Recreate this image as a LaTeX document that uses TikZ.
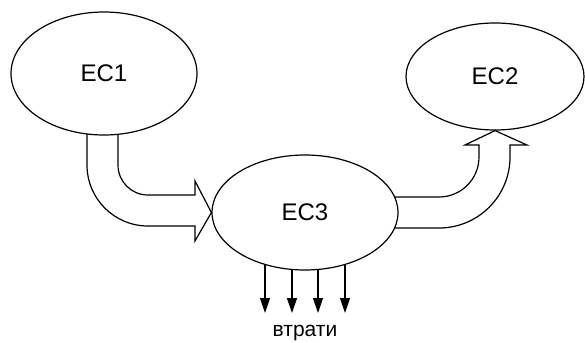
\documentclass[tikz,border=0pt]{standalone}
\usepackage{fontspec}
\setmainfont{Liberation Sans}
\usetikzlibrary{shapes.geometric,arrows.meta,backgrounds,calc}
\begin{document}
\begin{tikzpicture}[x=1pt,y=-1pt,line width=1.2pt,
  state/.style={ellipse,draw,fill=white,inner sep=0pt,line width=1.2pt,font=\fontsize{24}{28}\selectfont},
  blockarrow/.style={draw,black,line width=1.2pt,line join=miter},
  lossarrow/.style={draw,black,line width=1.2pt,-{Triangle[width=10pt,length=15pt]}}]
\useasboundingbox (0,0) rectangle (585,342);
\node[state,minimum width=186pt,minimum height=123pt] (ec1) at (104,73.5) {EC1};
\node[state,minimum width=178pt,minimum height=107pt] (ec2) at (495,76.5) {EC2};
\node[state,minimum width=186pt,minimum height=115pt] (ec3) at (305,212.5) {EC3};
\node[font=\fontsize{21}{25}\selectfont] (loss) at (305,333) {втрати};
\begin{scope}[on background layer]
  % EC1 -> EC3
  \draw[blockarrow] ($(ec1.center)+(-17,40)$) -- (87,165)
    .. controls (87,198.7) and (114.3,226) .. (148,226) -- (195,226) -- (195,241)
    -- (ec3.west) -- (195,181) -- (195,195) -- (148,195)
    .. controls (131.4,195) and (118,181.6) .. (118,165) -- ($(ec1.center)+(14,40)$);
  % EC3 -> EC2
  \draw[blockarrow] ($(ec3.center)+(80,-15.5)$) -- (439,197)
    .. controls (461.1,197) and (479,179.1) .. (479,157) -- (479,145) -- (465,145)
    -- (ec2.south) -- (527,145) -- (510,145) -- (510,157)
    .. controls (510,196.2) and (478.2,228) .. (439,228) -- ($(ec3.center)+(80,15.5)$);
  % losses
  \foreach \dx/\n in {-40/1,-13/2,13/3,40/4}{
    \coordinate (l\n) at ($(ec3.center)+(\dx,100.5)$);
    \draw[lossarrow] ($(ec3.center)+(\dx,0)$) -- (l\n);
  }
\end{scope}
\end{tikzpicture}
\end{document}
